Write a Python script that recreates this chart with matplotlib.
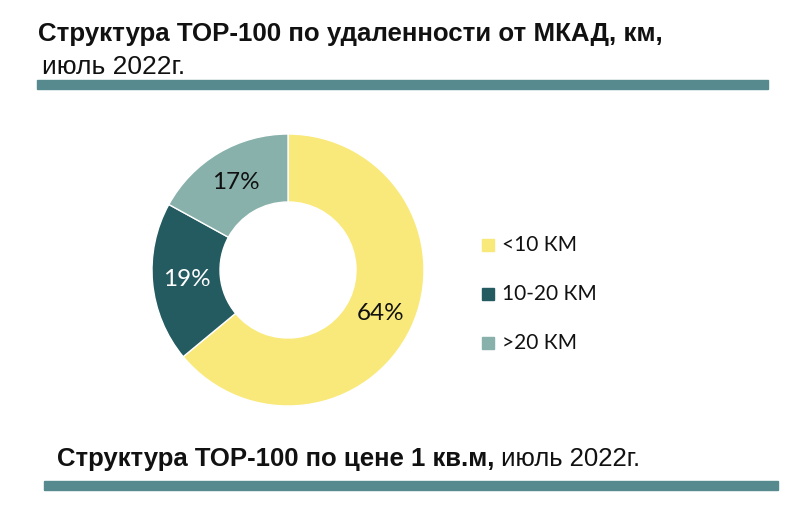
import matplotlib
matplotlib.use("Agg")
import matplotlib.pyplot as plt
from matplotlib.patches import Rectangle

categories = ["<10 КМ", "10-20 КМ", ">20 КМ"]
shares = [64, 19, 17]
colors = ["#F9E97A", "#245B61", "#87B1AA"]
label_colors = ["#111111", "#FFFFFF", "#111111"]

title1 = "Структура ТОР-100 по удаленности от МКАД, км,"
title2 = "июль 2022г."
title3_bold = "Структура ТОР-100 по цене 1 кв.м,"
title3_norm = " июль 2022г."

W, H = 800, 513
fig = plt.figure(figsize=(W / 100, H / 100), dpi=100)
fig.patch.set_facecolor("white")

def fx(x):
    return x / W

def fy(y):
    return 1 - y / H

# Titles
fig.text(fx(38), fy(41), title1, fontsize=18.6, fontweight="bold",
         family="Liberation Sans", color="#111111", va="baseline")
fig.text(fx(42), fy(74), title2, fontsize=19, family="Liberation Sans",
         color="#111111", va="baseline")
fig.patches.append(Rectangle((fx(37), fy(89)), fx(768) - fx(37), fy(80) - fy(89),
                             transform=fig.transFigure, color="#568A8E", zorder=1))

t = fig.text(fx(57), fy(466), title3_bold, fontsize=18.5, fontweight="bold",
             family="Liberation Sans", color="#111111", va="baseline")
fig.canvas.draw()
bb = t.get_window_extent()
fig.text(bb.x1 / W, fy(466), title3_norm, fontsize=18.5, family="Liberation Sans",
         color="#111111", va="baseline")
fig.patches.append(Rectangle((fx(44), fy(490)), fx(778) - fx(44), fy(481) - fy(490),
                             transform=fig.transFigure, color="#568A8E", zorder=1))

# Donut
cx, cy, r = 288, 270, 136
ax = fig.add_axes([fx(cx - r), fy(cy + r), 2 * r / W, 2 * r / H])
wedges, texts, autotexts = ax.pie(
    shares, colors=colors, startangle=90, counterclock=False,
    wedgeprops=dict(width=0.5, edgecolor="white", linewidth=1),
    autopct="%d%%", pctdistance=0.75,
    textprops=dict(fontsize=17.5, family="Lato"))
for at, c in zip(autotexts, label_colors):
    at.set_color(c)
ax.set_aspect("equal")
ax.set_xlim(-1, 1)
ax.set_ylim(-1, 1)
ax.axis("off")

# Legend
leg_y = [245, 294, 343]
for cat, col, y in zip(categories, colors, leg_y):
    fig.patches.append(Rectangle((fx(482), fy(y + 6)), 12 / W, 12 / H,
                                 transform=fig.transFigure, color=col))
    fig.text(fx(502), fy(y), cat, fontsize=15, family="Lato",
             color="#111111", va="center")

fig.savefig("out.png", dpi=100, facecolor="white")
